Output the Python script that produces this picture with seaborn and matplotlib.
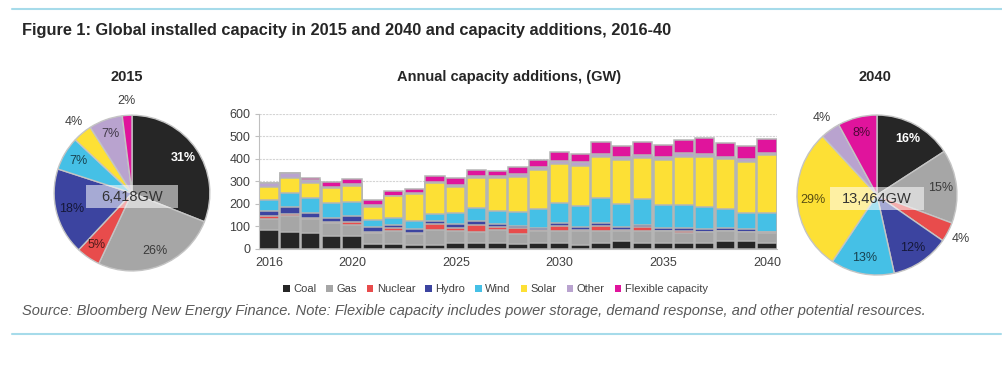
import numpy as np
import pandas as pd
import matplotlib
matplotlib.use("Agg")
import matplotlib.pyplot as plt
from matplotlib.patches import Patch, Rectangle
from matplotlib.lines import Line2D
from matplotlib.colors import to_rgb
import seaborn as sns

sns.set_style("white")
plt.rcParams['font.family'] = ['Liberation Sans', 'DejaVu Sans']

# categories + colours
techs = ["Coal", "Gas", "Nuclear", "Hydro", "Wind", "Solar", "Other", "Flexible capacity"]
colors = ["#262626", "#a6a6a6", "#e84c4c", "#3c44a0", "#45c0e6", "#fde035", "#b9a3cf", "#e0149c"]

# annual capacity additions (GW)
years = [2016, 2017, 2018, 2019, 2020, 2021, 2022, 2023, 2024, 2025, 2026, 2027, 2028,
         2029, 2030, 2031, 2032, 2033, 2034, 2035, 2036, 2037, 2038, 2039, 2040]
coal = [84, 77, 70, 58, 58, 22, 22, 18, 18, 25, 28, 25, 22, 28, 25, 18, 28, 33, 28, 25, 25, 25, 33, 33, 25]
gas = [49, 67, 63, 59, 49, 48, 58, 47, 66, 55, 46, 59, 45, 52, 55, 60, 52, 47, 52, 56, 45, 52, 45, 44, 47]
nuclear = [11, 12, 6, 4, 12, 7, 12, 6, 26, 12, 33, 12, 25, 4, 20, 4, 22, 4, 15, 0, 10, 0, 3, 0, 3]
hydro = [25, 28, 19, 18, 25, 19, 15, 16, 14, 18, 17, 14, 10, 8, 13, 13, 15, 11, 12, 11, 12, 10, 11, 10, 2]
wind = [47, 63, 67, 64, 66, 33, 32, 37, 30, 48, 57, 59, 64, 85, 93, 96, 111, 104, 114, 104, 104, 101, 84, 74, 84]
solar = [57, 70, 67, 67, 71, 59, 94, 119, 137, 119, 136, 148, 154, 172, 171, 178, 182, 194, 182, 200, 214, 222, 224, 227, 257]
other = [19, 19, 15, 7, 6, 8, 4, 4, 4, 7, 7, 7, 12, 13, 15, 15, 11, 13, 15, 14, 15, 11, 10, 11, 10]
flex = [0, 0, 7, 18, 24, 19, 18, 18, 29, 33, 27, 23, 32, 34, 37, 38, 52, 49, 55, 52, 59, 71, 60, 56, 59]

# installed capacity shares (%)
share_2015 = [31, 26, 5, 18, 7, 4, 7, 2]
share_2040 = [16, 15, 4, 12, 13, 29, 4, 8]
total_2015 = "6,418GW"
total_2040 = "13,464GW"

fig = plt.figure(figsize=(10.03, 3.72), dpi=100)

# ---- stacked bars (layered cumulative bars)
df = pd.DataFrame({"Year": years, "Coal": coal, "Gas": gas, "Nuclear": nuclear, "Hydro": hydro,
                   "Wind": wind, "Solar": solar, "Other": other, "Flexible capacity": flex})
cum = df[techs].cumsum(axis=1)

ax = fig.add_axes([0.258, 0.331, 0.517, 0.363])
for tech, col in reversed(list(zip(techs, colors))):
    sns.barplot(x=df["Year"], y=cum[tech], color=col, saturation=1, native_scale=True,
                width=0.93, edgecolor="#b5b5b5", linewidth=1.1, errorbar=None, ax=ax)

ax.set_xlim(2015.5, 2040.5)
ax.set_ylim(0, 600)
ax.set_yticks(range(0, 601, 100))
ax.set_xticks([2016, 2020, 2025, 2030, 2035, 2040])
ax.set_xticks([2015.5, 2020.5, 2025.5, 2030.5, 2035.5, 2040.5], minor=True)
ax.tick_params(axis="x", which="major", length=0, pad=6, labelsize=9, labelcolor="#404040")
ax.tick_params(axis="x", which="minor", length=5, color="#bfbfbf", width=1, direction="out")
ax.tick_params(axis="y", length=3, color="#bfbfbf", labelsize=9, labelcolor="#404040", pad=3, left=True)
ax.set_xlabel("")
ax.set_ylabel("")
ax.grid(axis="y", color="#d4d4d4", linestyle=(0, (2, 1)), linewidth=0.8)
ax.set_axisbelow(True)
sns.despine(ax=ax)
for s in ["left", "bottom"]:
    ax.spines[s].set_color("#bfbfbf")

# ---- pies
def draw_pie(rect, vals, label):
    pax = fig.add_axes(rect)
    wedges, _ = pax.pie(vals, colors=colors, startangle=90, counterclock=False,
                        wedgeprops=dict(edgecolor="#c4c4c4", linewidth=1))
    for i, (w, v) in enumerate(zip(wedges, vals)):
        ang = np.deg2rad((w.theta1 + w.theta2) / 2)
        if v >= 5:
            r = 0.8
            if i == 0:
                tc, fw = "white", "bold"
            else:
                tc, fw = tuple(c * 0.35 for c in to_rgb(colors[i])), "normal"
        else:
            r = 1.18
            tc, fw = "#404040", "normal"
        pax.text(r * np.cos(ang), r * np.sin(ang), f"{v}%", ha="center", va="center",
                 fontsize=9, color=tc, fontweight=fw)
    pax.add_patch(Rectangle((-0.59, -0.19), 1.18, 0.29, facecolor="white", alpha=0.55,
                            edgecolor="none", zorder=5))
    pax.text(0, -0.05, label, ha="center", va="center", fontsize=10.5, color="#333333", zorder=6)
    pax.set_xlim(-1.4, 1.4)
    pax.set_ylim(-1.4, 1.4)
    pax.set_aspect("equal")
    pax.axis("off")

draw_pie([0.0229, 0.188, 0.2174, 0.586], share_2015, total_2015)
draw_pie([0.7627, 0.1747, 0.2233, 0.602], share_2040, total_2040)

# ---- texts
fig.text(0.1266, 0.793, "2015", ha="center", va="center", fontsize=10.5, fontweight="bold")
fig.text(0.8724, 0.793, "2040", ha="center", va="center", fontsize=10.5, fontweight="bold")
fig.text(0.5075, 0.793, "Annual capacity additions, (GW)", ha="center", va="center",
         fontsize=10.5, fontweight="bold")
fig.text(0.022, 0.919, "Figure 1: Global installed capacity in 2015 and 2040 and capacity additions, 2016-40",
         ha="left", va="center", fontsize=11.8, fontweight="bold")
fig.text(0.022, 0.164, "Source: Bloomberg New Energy Finance. Note: Flexible capacity includes power "
         "storage, demand response, and other potential resources.",
         ha="left", va="center", fontsize=10.5, style="italic", color="#595959")

handles = [Patch(facecolor=c, edgecolor="none") for c in colors]
fig.legend(handles, techs, loc="center", bbox_to_anchor=(0.494, 0.223), ncol=8, frameon=False,
           fontsize=8, handlelength=0.6, handleheight=0.6, handletextpad=0.3,
           columnspacing=0.9, labelcolor="#404040")

fig.add_artist(Line2D([0.012, 1.0], [0.975, 0.975], color="#a6dbea", lw=1.5, transform=fig.transFigure))
fig.add_artist(Line2D([0.012, 0.998], [0.102, 0.102], color="#a6dbea", lw=1.5, transform=fig.transFigure))

fig.savefig("out.png", dpi=100)
